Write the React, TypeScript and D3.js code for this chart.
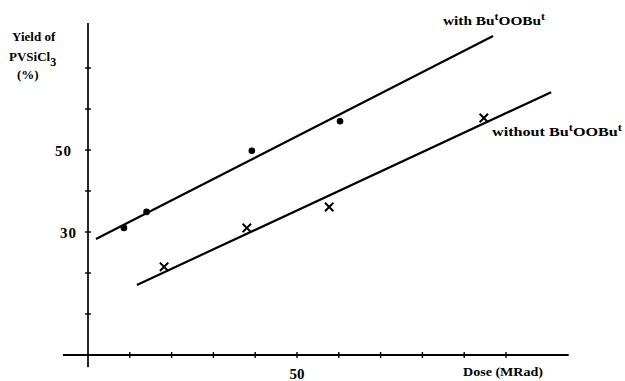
import React, { useEffect, useRef } from 'react';
import * as d3 from 'd3';

// values
const withDose = [8.6, 14, 39.2, 60.3];
const withYield = [31, 34.9, 49.8, 57];
const withoutDose = [18.2, 38, 57.7, 94.7];
const withoutYield = [21.5, 31, 36.1, 57.8];
// fitted straight lines (end points)
const withLineDose = [1.9, 96.9];
const withLineYield = [28.3, 77.8];
const withoutLineDose = [11.7, 110.8];
const withoutLineYield = [17.1, 64.1];

const xTicks = [10, 20, 30, 40, 50, 60, 70, 80, 90, 100];
const yTicks = [10, 20, 30, 40, 50, 60, 70];
const xTickLabels = [50];
const yTickLabels = [30, 50];

const App = () => {
  const ref = useRef<SVGSVGElement>(null);

  useEffect(() => {
    const svg = d3.select(ref.current);
    svg.selectAll('*').remove();

    const x = d3.scaleLinear().domain([0, 100]).range([88, 506]);
    const y = d3.scaleLinear().domain([0, 50]).range([355, 150]);
    const font = '"Liberation Serif", serif';

    svg.append('rect').attr('width', 625).attr('height', 381).attr('fill', '#fff');

    // axes
    svg.append('line')
      .attr('x1', x(-6)).attr('x2', x(115))
      .attr('y1', y(0)).attr('y2', y(0))
      .attr('stroke', '#000').attr('stroke-width', 2);
    svg.append('line')
      .attr('x1', x(0)).attr('x2', x(0))
      .attr('y1', y(-3)).attr('y2', y(81))
      .attr('stroke', '#000').attr('stroke-width', 1.7);

    svg.append('g').selectAll('line')
      .data(xTicks)
      .join('line')
      .attr('x1', d => x(d)).attr('x2', d => x(d))
      .attr('y1', y(0) - 3).attr('y2', y(0) + 3)
      .attr('stroke', '#000').attr('stroke-width', 1.4);

    svg.append('g').selectAll('line')
      .data(yTicks)
      .join('line')
      .attr('x1', x(0) - 3).attr('x2', x(0) + 3)
      .attr('y1', d => y(d)).attr('y2', d => y(d))
      .attr('stroke', '#000').attr('stroke-width', 1.4);

    svg.append('g').selectAll('text')
      .data(xTickLabels)
      .join('text')
      .attr('x', d => x(d)).attr('y', 379)
      .attr('text-anchor', 'middle')
      .attr('font-family', font).attr('font-weight', 'bold').attr('font-size', 15)
      .text(d => d);

    svg.append('g').selectAll('text')
      .data(yTickLabels)
      .join('text')
      .attr('x', d => (d === 30 ? 77 : 72)).attr('y', d => y(d) + 6)
      .attr('text-anchor', 'end')
      .attr('font-family', font).attr('font-weight', 'bold').attr('font-size', 15)
      .attr('letter-spacing', 1)
      .text(d => d);

    // axis titles
    const yTitle = svg.append('text')
      .attr('font-family', font).attr('font-weight', 'bold').attr('font-size', 13);
    yTitle.append('tspan').attr('x', 12).attr('y', 41).text('Yield of');
    const p = yTitle.append('tspan').attr('x', 9).attr('y', 61).text('PVSiCl');
    p.append('tspan').attr('dy', 5).attr('font-size', 12).text('3');
    yTitle.append('tspan').attr('x', 17).attr('y', 79).text('(%)');

    svg.append('text')
      .attr('x', 463).attr('y', 376)
      .attr('textLength', 80).attr('lengthAdjust', 'spacingAndGlyphs')
      .attr('font-family', font).attr('font-weight', 'bold').attr('font-size', 13)
      .text('Dose (MRad)');

    // fitted lines
    const line = d3.line<[number, number]>().x(d => x(d[0])).y(d => y(d[1]));
    svg.append('path')
      .attr('d', line(d3.zip(withLineDose, withLineYield) as [number, number][]))
      .attr('fill', 'none').attr('stroke', '#000').attr('stroke-width', 2.2);
    svg.append('path')
      .attr('d', line(d3.zip(withoutLineDose, withoutLineYield) as [number, number][]))
      .attr('fill', 'none').attr('stroke', '#000').attr('stroke-width', 2.2);

    // markers
    svg.append('g').selectAll('circle')
      .data(d3.zip(withDose, withYield))
      .join('circle')
      .attr('cx', d => x(d[0])).attr('cy', d => y(d[1]))
      .attr('r', 3.3).attr('fill', '#000');

    const s = 4.2;
    svg.append('g').selectAll('path')
      .data(d3.zip(withoutDose, withoutYield))
      .join('path')
      .attr('d', d => {
        const cx = x(d[0]), cy = y(d[1]);
        return `M${cx - s},${cy - s}L${cx + s},${cy + s}M${cx + s},${cy - s}L${cx - s},${cy + s}`;
      })
      .attr('stroke', '#000').attr('stroke-width', 2).attr('fill', 'none');

    // series labels
    const lab1 = svg.append('text')
      .attr('x', 443).attr('y', 25)
      .attr('textLength', 102).attr('lengthAdjust', 'spacingAndGlyphs')
      .attr('font-family', font).attr('font-weight', 'bold').attr('font-size', 13);
    lab1.append('tspan').text('with Bu');
    lab1.append('tspan').attr('dy', -5).attr('font-size', 10).text('t');
    lab1.append('tspan').attr('dy', 5).text('OOBu');
    lab1.append('tspan').attr('dy', -5).attr('font-size', 10).text('t');

    const lab2 = svg.append('text')
      .attr('x', 492).attr('y', 136)
      .attr('textLength', 130).attr('lengthAdjust', 'spacingAndGlyphs')
      .attr('font-family', font).attr('font-weight', 'bold').attr('font-size', 13);
    lab2.append('tspan').text('without Bu');
    lab2.append('tspan').attr('dy', -5).attr('font-size', 10).text('t');
    lab2.append('tspan').attr('dy', 5).text('OOBu');
    lab2.append('tspan').attr('dy', -5).attr('font-size', 10).text('t');
  }, []);

  return (
    <svg ref={ref} width={625} height={381}
      style={{ position: 'absolute', left: 0, top: 0 }} />
  );
};

export default App;
